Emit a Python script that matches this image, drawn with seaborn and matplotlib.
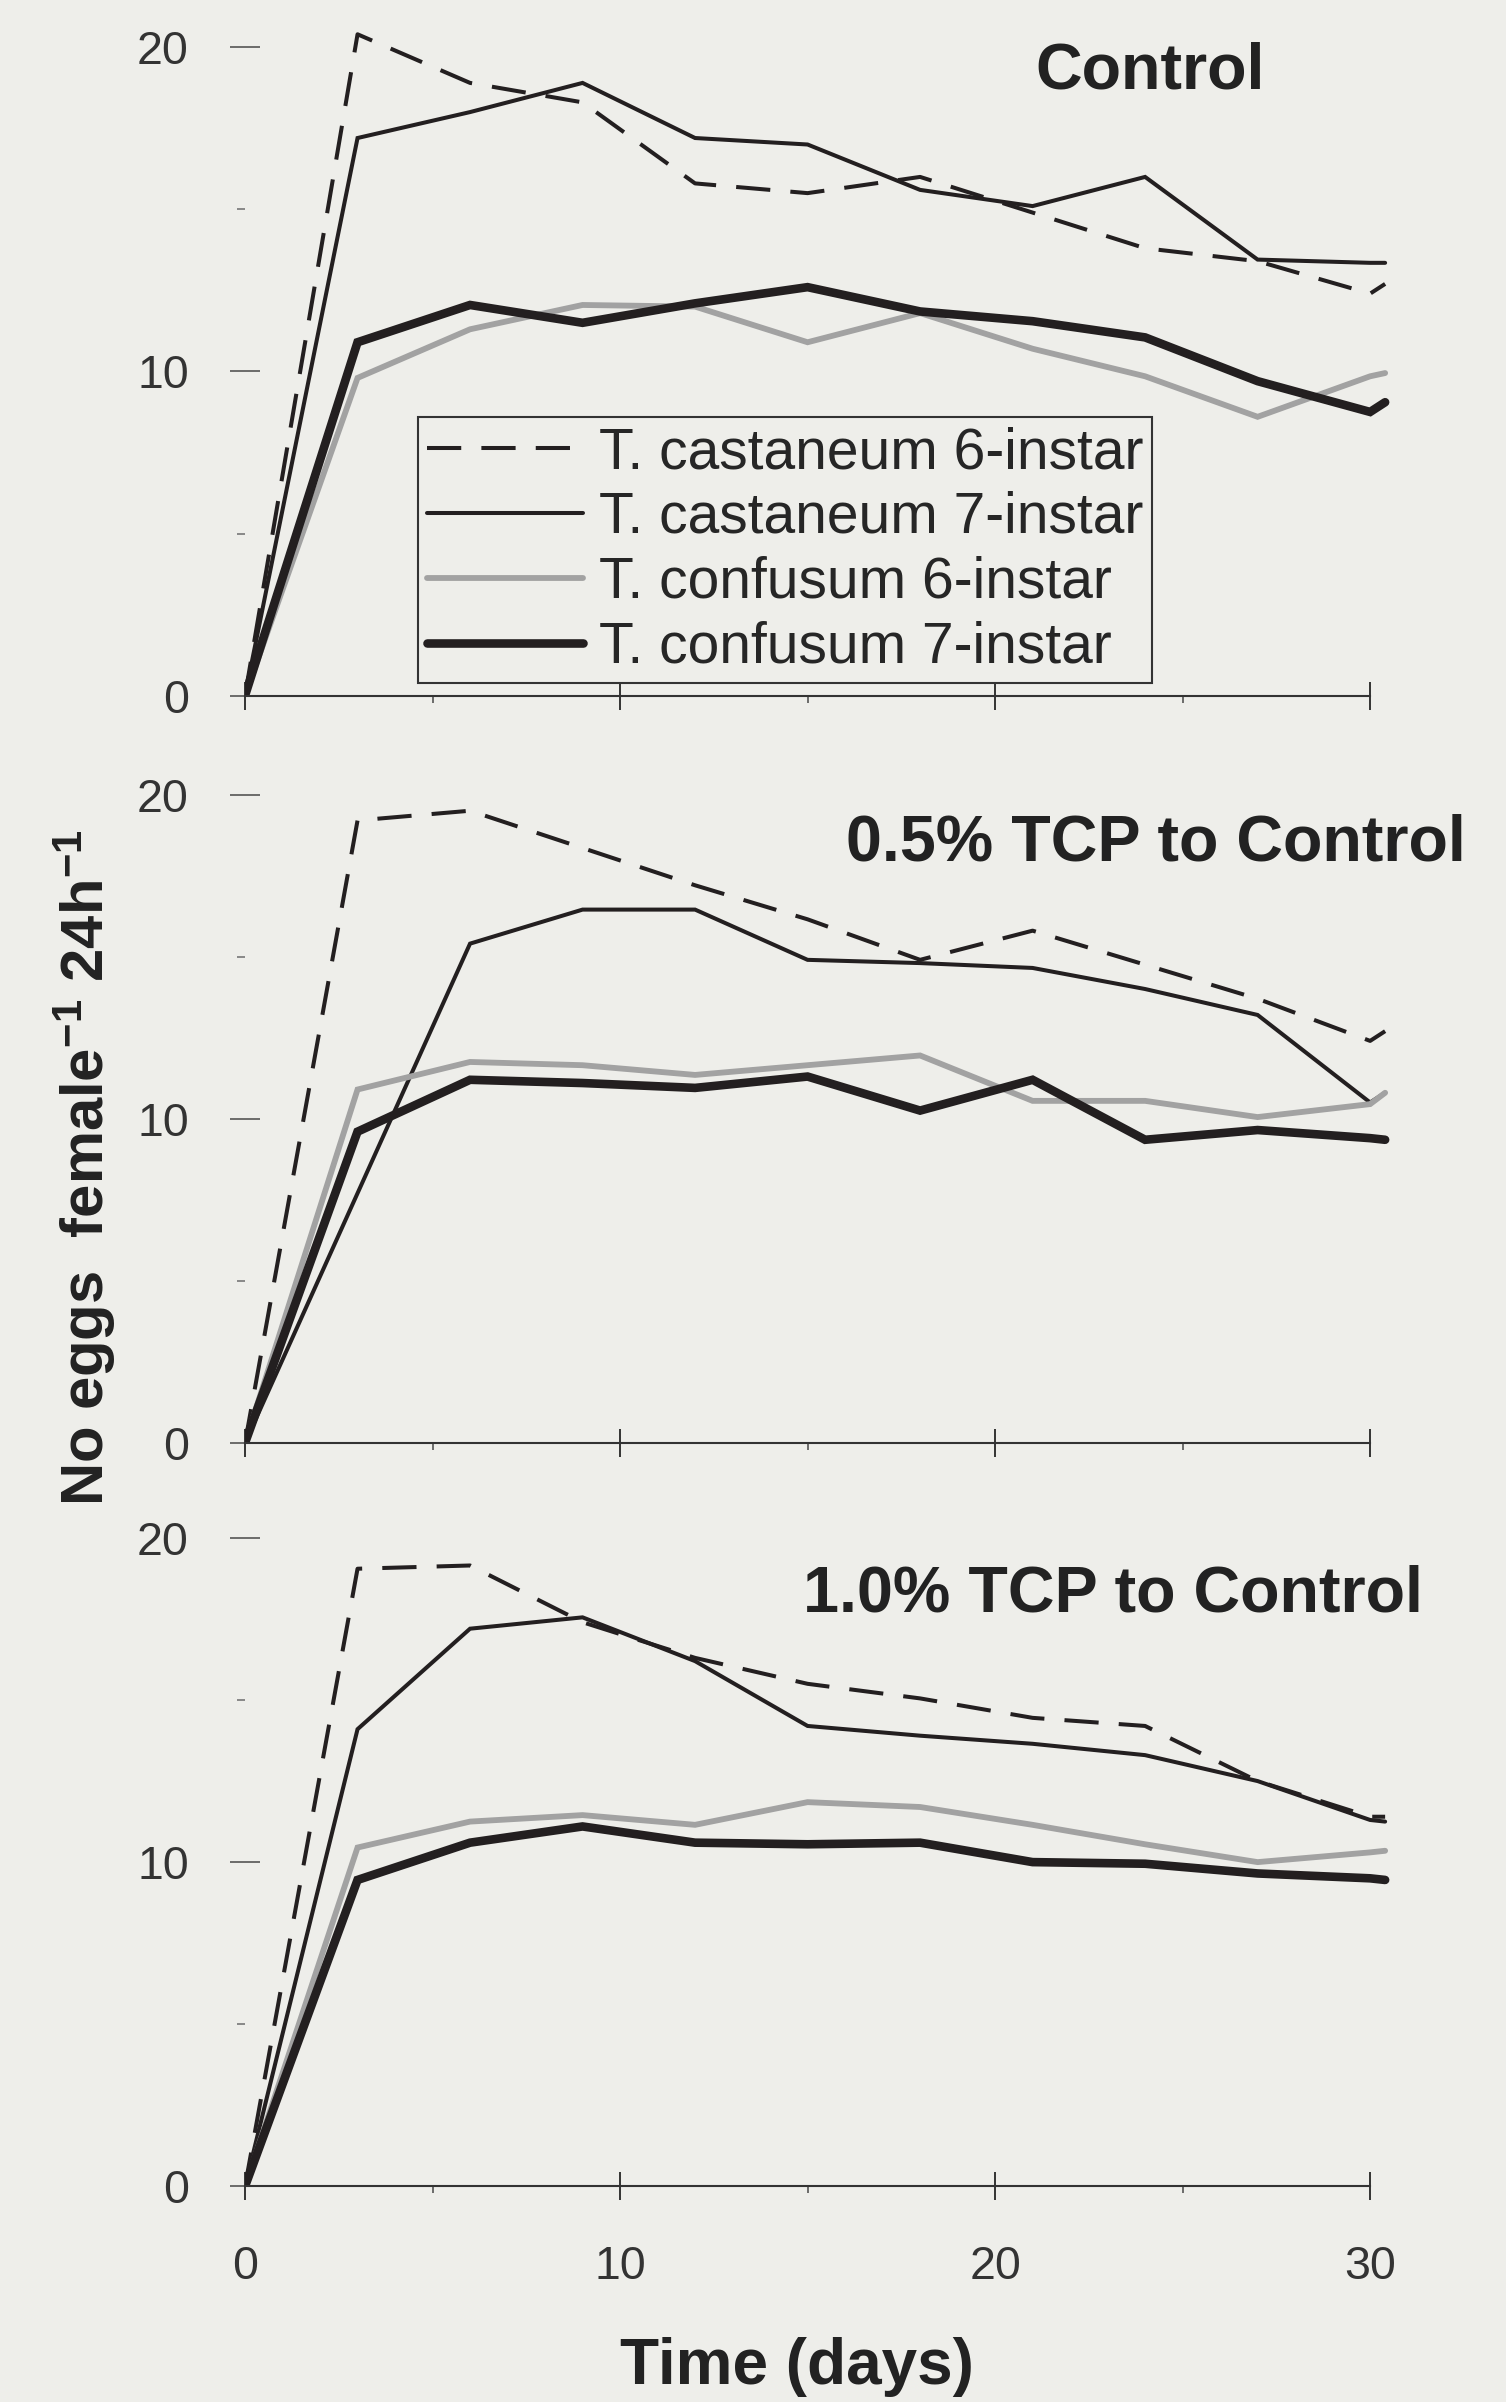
import matplotlib
matplotlib.use("Agg")
import matplotlib.pyplot as plt
import seaborn as sns
from matplotlib.ticker import FixedLocator

# sampling days (last two points close together at the end of the run)
days = [0, 3, 6, 9, 12, 15, 18, 21, 24, 27, 30, 30.4]

panel_titles = ["Control", "0.5% TCP to Control", "1.0% TCP to Control"]
series_names = ["T. castaneum 6-instar", "T. castaneum 7-instar",
                "T. confusum 6-instar", "T. confusum 7-instar"]

# Control
ctrl_cast6 = [0, 20.4, 18.9, 18.3, 15.8, 15.5, 16.0, 14.9, 13.8, 13.4, 12.4, 12.7]
ctrl_cast7 = [0, 17.2, 18.0, 18.9, 17.2, 17.0, 15.6, 15.1, 16.0, 13.45, 13.35, 13.35]
ctrl_conf6 = [0, 9.8, 11.3, 12.05, 12.0, 10.9, 11.8, 10.7, 9.85, 8.6, 9.85, 9.95]
ctrl_conf7 = [0, 10.9, 12.05, 11.5, 12.1, 12.6, 11.85, 11.55, 11.05, 9.7, 8.75, 9.05]

# 0.5% TCP to Control
tcp05_cast6 = [0, 19.2, 19.5, 18.35, 17.2, 16.15, 14.9, 15.8, 14.75, 13.7, 12.4, 12.7]
tcp05_cast7 = [0, 7.7, 15.4, 16.45, 16.45, 14.9, 14.8, 14.65, 14.0, 13.2, 10.5, 10.8]
tcp05_conf6 = [0, 10.9, 11.75, 11.65, 11.35, 11.65, 11.95, 10.55, 10.55, 10.05, 10.45, 10.8]
tcp05_conf7 = [0, 9.6, 11.2, 11.1, 10.95, 11.3, 10.25, 11.2, 9.35, 9.65, 9.4, 9.35]

# 1.0% TCP to Control
tcp10_cast6 = [0, 19.05, 19.15, 17.4, 16.3, 15.5, 15.05, 14.45, 14.2, 12.5, 11.4, 11.4]
tcp10_cast7 = [0, 14.1, 17.2, 17.55, 16.2, 14.2, 13.9, 13.65, 13.3, 12.5, 11.3, 11.25]
tcp10_conf6 = [0, 10.45, 11.25, 11.45, 11.15, 11.85, 11.7, 11.15, 10.55, 10.0, 10.3, 10.35]
tcp10_conf7 = [0, 9.45, 10.6, 11.1, 10.6, 10.55, 10.6, 10.0, 9.95, 9.65, 9.5, 9.45]

panel_data = [
    [ctrl_cast6, ctrl_cast7, ctrl_conf6, ctrl_conf7],
    [tcp05_cast6, tcp05_cast7, tcp05_conf6, tcp05_conf7],
    [tcp10_cast6, tcp10_cast7, tcp10_conf6, tcp10_conf7],
]

BG = "#eeeeea"
INK = "#231f20"
line_styles = [
    dict(color=INK, lw=2.9, linestyle=(0, (8.5, 5))),
    dict(color=INK, lw=2.9, linestyle="-"),
    dict(color="#a2a2a2", lw=4.2, linestyle="-"),
    dict(color=INK, lw=6.2, linestyle="-"),
]
title_pos = [(27.2, 19.26), (32.55, 18.5), (31.4, 18.27)]

sns.set_style("white")
plt.rcParams["font.family"] = ["Liberation Sans", "DejaVu Sans"]
plt.rcParams["mathtext.fontset"] = "custom"
plt.rcParams["mathtext.rm"] = "Liberation Sans:bold"
plt.rcParams["mathtext.default"] = "rm"

fig = plt.figure(figsize=(15.06, 24.02), dpi=100, facecolor=BG)
bottoms = [0.7104, 0.3993, 0.0898]

for i, (bottom, data) in enumerate(zip(bottoms, panel_data)):
    ax = fig.add_axes([0.1627, bottom, 0.767, 0.2895])
    ax.set_facecolor(BG)
    for name, vals, st in zip(series_names, data, line_styles):
        sns.lineplot(x=days, y=vals, ax=ax, legend=False,
                     label=name if i == 0 else None,
                     solid_joinstyle="miter", **st)
    ax.set_xlim(0, 30.8)
    ax.set_ylim(0, 21.45)
    ax.set_xlabel("")
    ax.set_ylabel("")
    for side in ["top", "right", "left"]:
        ax.spines[side].set_visible(False)
    ax.spines["bottom"].set_bounds(0, 30)
    ax.spines["bottom"].set_linewidth(1.5)
    ax.spines["bottom"].set_color("#333333")

    ax.yaxis.set_major_locator(FixedLocator([0, 10, 20]))
    ax.yaxis.set_minor_locator(FixedLocator([5, 15]))
    ax.xaxis.set_major_locator(FixedLocator([0, 10, 20, 30]))
    ax.xaxis.set_minor_locator(FixedLocator([5, 15, 25]))
    ax.tick_params(axis="y", which="major", left=True, direction="inout",
                   length=21, width=1.2, color="#555555", labelsize=33.5,
                   labelcolor="#333333", pad=30)
    ax.tick_params(axis="y", which="minor", left=True, direction="out",
                   length=6, width=1.2, color="#777777")
    ax.tick_params(axis="x", which="major", bottom=True, direction="inout",
                   length=20, width=1.4, color="#333333", labelsize=33.5,
                   labelcolor="#333333", pad=32, labelbottom=(i == 2))
    ax.tick_params(axis="x", which="minor", bottom=True, direction="out",
                   length=5, width=1.2, color="#555555")

    tx, ty = title_pos[i]
    ax.text(tx, ty, panel_titles[i], ha="right", va="center",
            fontsize=46.5, fontweight="bold", color="#222222")

    if i == 0:
        ax.legend(loc="upper left", bbox_to_anchor=(0.2776, 0.8262),
                  bbox_transform=fig.transFigure, borderaxespad=0,
                  borderpad=0.15, handlelength=2.75, handletextpad=0.28,
                  labelspacing=0.19, fontsize=41, frameon=True,
                  fancybox=False, edgecolor="#333333", facecolor=BG,
                  framealpha=1).get_frame().set_linewidth(1.5)

fig.text(0.529, 0.0146, "Time (days)", ha="center", va="center",
         fontsize=46, fontweight="bold", color="#222222")
fig.text(0.0558, 0.5137, "No eggs  female$^{-1}$ 24h$^{-1}$", ha="center",
         va="center", rotation=90, fontsize=43, fontweight="bold",
         color="#222222")

fig.savefig("out.png", dpi=100, facecolor=BG)
